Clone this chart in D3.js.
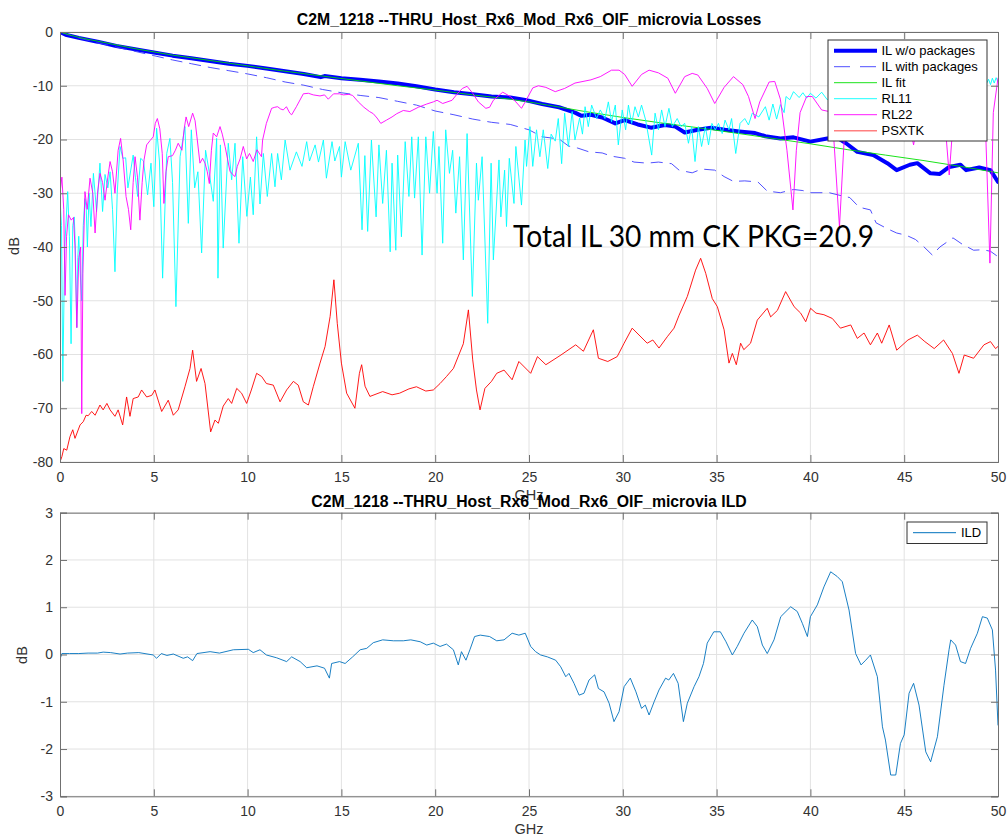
<!DOCTYPE html>
<html><head><meta charset="utf-8">
<script src="https://cdn.jsdelivr.net/npm/d3@7"></script>
<style>
body{margin:0;background:#fff}
svg text{font-family:"Liberation Sans",Arial,Helvetica,sans-serif}
</style>
</head><body>
<svg id="c" width="1008" height="836"></svg>
<script>
// ---------------- DATA ----------------
const titleTop = "C2M_1218 --THRU_Host_Rx6_Mod_Rx6_OIF_microvia Losses";
const titleBot = "C2M_1218 --THRU_Host_Rx6_Mod_Rx6_OIF_microvia ILD";
const annotation = "Total IL 30 mm CK PKG=20.9";
const xTicks = [0,5,10,15,20,25,30,35,40,45,50];
const yTicksTop = [0,-10,-20,-30,-40,-50,-60,-70,-80];
const yTicksBot = [3,2,1,0,-1,-2,-3];
const legendTop = ["IL w/o packages","IL with packages","IL fit","RL11","RL22","PSXTK"];
const legendBot = ["ILD"];

// IL without packages [GHz, dB]
const ilWo = [[0,0],[0.3,-0.5],[1,-1.1],[2,-1.8],[3,-2.6],[4,-3.2],[5,-3.8],[6,-4.4],[7,-4.9],[8,-5.4],[9,-5.9],[10,-6.3],[11,-6.8],[12,-7.3],[13,-7.8],[13.9,-8.4],[14.1,-8.2],[15,-8.6],[16,-8.9],[17,-9.2],[18,-9.6],[19,-10.1],[20,-10.7],[21,-11.2],[22,-11.6],[23,-12.0],[24,-12.2],[24.8,-12.65],[25.7,-13.4],[26.6,-14.0],[27.45,-15.0],[27.8,-15.6],[28.3,-15.4],[28.9,-15.9],[29.6,-17.0],[30.1,-16.4],[30.8,-17.2],[31.5,-17.8],[32.25,-17.3],[32.8,-17.6],[33.3,-18.7],[34.0,-18.2],[34.7,-17.8],[35.45,-18.2],[36.2,-18.5],[37.05,-18.8],[37.6,-19.4],[38.4,-19.8],[39.1,-19.6],[40.0,-20.4],[40.9,-19.8],[41.4,-19.6],[41.9,-20.7],[42.5,-22.3],[43.35,-22.9],[44.1,-24.4],[44.6,-25.7],[45.3,-24.7],[45.7,-24.4],[46.4,-26.3],[46.9,-26.4],[47.4,-25.1],[48.0,-24.7],[48.3,-25.7],[49.0,-25.2],[49.6,-25.7],[50,-27.9]];

// IL with packages
const ilWith = [[0,0],[1,-1.1],[2,-2.0],[3,-2.8],[4,-3.6],[5,-4.4],[6,-5.2],[7,-5.9],[8,-6.6],[9,-7.2],[10,-7.8],[11,-8.5],[12,-9.3],[13,-9.9],[14,-10.7],[15,-11.3],[16,-11.8],[17,-12.2],[18,-12.9],[19,-13.6],[20,-14.7],[21,-15.4],[22,-16.2],[23,-16.8],[24,-17.2],[25,-18.2],[25.7,-19.5],[26.6,-19.9],[27.1,-21.2],[27.6,-21.6],[28.2,-22.3],[28.9,-22.5],[29.4,-23.1],[30.1,-23.5],[30.6,-24.2],[31.3,-24.4],[31.9,-24.2],[32.6,-24.5],[33.0,-25.7],[33.7,-26.2],[34.2,-25.5],[34.9,-25.7],[35.4,-26.9],[35.9,-27.8],[36.5,-27.7],[37.2,-27.9],[37.7,-29.6],[38.4,-29.9],[39.1,-29.3],[39.6,-29.5],[40.0,-29.9],[41.0,-29.9],[41.7,-30.5],[42.1,-30.8],[42.6,-32.6],[43.2,-33.1],[43.5,-35.5],[44.1,-36.6],[44.6,-37.4],[45.1,-37.8],[45.6,-38.6],[46.0,-39.8],[46.5,-41.5],[46.9,-40.0],[47.6,-38.3],[48.1,-39.5],[48.7,-40.6],[49.2,-40.5],[49.6,-40.8],[50,-41.8]];

// IL fit
const ilFit = [[0,0],[1,-1.0],[2,-1.7],[3,-2.4],[4,-3.1],[5,-3.7],[6,-4.3],[7,-4.8],[8,-5.3],[9,-5.8],[10,-6.3],[12,-7.3],[14,-8.2],[16,-9.1],[18,-10.0],[20,-10.8],[22,-11.7],[24,-12.5],[26,-13.6],[28,-14.8],[30,-15.9],[32,-16.9],[34,-17.8],[36,-18.8],[38,-19.8],[40,-20.8],[42,-21.9],[44,-22.9],[46,-23.9],[48,-25.0],[50,-26.2]];

// RL11
const rl11 = [[0,-31],[0.08,-36],[0.15,-65],[0.25,-40],[0.41,-29.7],[0.5,-38],[0.59,-58],[0.68,-36],[0.76,-34.4],[0.82,-40],[0.89,-55],[0.95,-42],[1.0,-38],[1.08,-45],[1.16,-50],[1.24,-36],[1.33,-31],[1.4,-33],[1.46,-40],[1.55,-30],[1.65,-36.2],[1.78,-26.3],[1.95,-33.4],[2.13,-24.4],[2.27,-33.4],[2.4,-26.5],[2.55,-29],[2.67,-26],[2.8,-33],[2.93,-44.6],[3.05,-30],[3.2,-21.3],[3.35,-23.5],[3.5,-23.4],[3.62,-29],[3.9,-22.9],[4.02,-27],[4.14,-30.6],[4.3,-23.5],[4.45,-24],[4.67,-30.3],[4.85,-24.4],[5.0,-32.5],[5.15,-17.9],[5.3,-24],[5.47,-45.8],[5.69,-22.6],[5.86,-19.8],[6.0,-28],[6.18,-51.1],[6.4,-23.2],[6.66,-17.6],[6.84,-35.6],[7.0,-18.2],[7.18,-29],[7.35,-26],[7.55,-41.1],[7.76,-22],[7.95,-26],[8.17,-31.5],[8.35,-19.8],[8.42,-45.8],[8.55,-21],[8.7,-40.2],[8.97,-20.7],[9.15,-27.5],[9.33,-20.7],[9.54,-39.3],[9.74,-23.2],[9.96,-34.3],[10.15,-27],[10.3,-34],[10.48,-19.5],[10.66,-32],[10.84,-22.6],[11.05,-30.6],[11.28,-22.6],[11.46,-28.8],[11.6,-22.6],[11.8,-27.5],[12.0,-20.1],[12.26,-25.7],[12.6,-22.3],[12.9,-25],[13.15,-20.4],[13.3,-24],[13.6,-21],[13.78,-24.2],[14.04,-20.1],[14.2,-27.2],[14.5,-20.4],[14.65,-24],[14.9,-21.3],[15.0,-27],[15.2,-20.4],[15.5,-25.7],[15.9,-20.7],[16.1,-36.8],[16.25,-23],[16.4,-37.1],[16.6,-20.1],[16.85,-34.4],[17.0,-21],[17.2,-31.9],[17.4,-22],[17.6,-40.9],[17.7,-24.4],[17.9,-40.6],[18.0,-22.9],[18.2,-38.1],[18.4,-20.4],[18.6,-30.6],[18.75,-19.5],[18.9,-30.9],[19.1,-19.5],[19.3,-41.5],[19.5,-19.5],[19.7,-30],[19.9,-18.5],[20.1,-30],[20.2,-21.3],[20.4,-39.3],[20.56,-18.2],[20.76,-26.3],[20.93,-22],[21.1,-33.7],[21.3,-23.2],[21.5,-42.4],[21.7,-18.9],[21.98,-49.2],[22.2,-24.4],[22.3,-31.3],[22.5,-23.2],[22.8,-54.2],[22.98,-24.4],[23.1,-42.4],[23.4,-23.8],[23.5,-34.4],[23.7,-25.7],[23.8,-36.2],[23.95,-23.5],[24.2,-31.9],[24.3,-21.3],[24.6,-32.2],[24.79,-20.1],[24.87,-25],[25.05,-17.6],[25.2,-25],[25.4,-18.2],[25.58,-23.2],[25.76,-18.2],[26.0,-25.4],[26.18,-19],[26.4,-20.3],[26.56,-16.1],[26.74,-24.5],[26.9,-15.1],[27.1,-21.3],[27.3,-14.8],[27.45,-20.1],[27.7,-16],[27.85,-19],[27.99,-13.9],[28.16,-17.6],[28.34,-13.6],[28.6,-16.1],[28.8,-14.5],[29.05,-16.1],[29.23,-13],[29.4,-16.7],[29.6,-13.6],[29.76,-21],[29.97,-14.5],[30.15,-18.2],[30.3,-13.6],[30.47,-17],[30.65,-13.9],[30.83,-15.8],[31.0,-13.6],[31.22,-16.4],[31.54,-22.9],[31.72,-15.1],[31.9,-18.2],[32.07,-14.5],[32.25,-17.6],[32.46,-14.2],[32.64,-17.6],[32.9,-16.1],[33.1,-17.6],[33.3,-17],[33.5,-20.7],[33.67,-17.6],[33.85,-24.1],[34.03,-17.6],[34.2,-21.3],[34.4,-17.6],[34.57,-21],[34.75,-17],[34.93,-18.2],[35.1,-17],[35.3,-18.9],[35.45,-16.4],[35.66,-18.2],[35.8,-16.1],[36.02,-22.6],[36.25,-17],[36.5,-16.1],[36.7,-17.3],[36.9,-15.1],[37.25,-15.8],[37.6,-13.9],[37.8,-16.4],[38.0,-13.4],[38.2,-16.2],[38.4,-13.5],[38.6,-15],[38.7,-12],[38.9,-12.6],[39.1,-11.1],[39.4,-12.2],[39.6,-11.3],[39.8,-12.3],[40.0,-11.4],[40.3,-12.3],[40.6,-11.2],[40.9,-12.6],[41.2,-11.5],[41.5,-12.5],[42,-11.5],[42.5,-12.2],[43,-11],[43.5,-11.8],[44,-10.8],[44.5,-11.6],[45,-10.5],[45.5,-11.3],[46,-10.3],[46.5,-11],[47,-10],[47.5,-10.8],[48,-9.8],[48.5,-10.5],[49,-9.5],[49.3,-10.2],[49.5,-8.8],[49.6,-9.8],[49.7,-8.6],[49.8,-9.5],[49.9,-8.5],[50,-9.3]];

// RL22
const rl22 = [[0,-30],[0.1,-27],[0.2,-33],[0.27,-49],[0.35,-38],[0.45,-34],[0.6,-35],[0.72,-34.5],[0.8,-40],[0.9,-55],[1.0,-42],[1.1,-40],[1.16,-71],[1.22,-45],[1.33,-29.7],[1.45,-33],[1.6,-27.2],[1.75,-30],[1.87,-37.4],[2.0,-30],[2.13,-26.3],[2.27,-28],[2.4,-31.3],[2.55,-27],[2.67,-24.1],[2.8,-26],[2.93,-30],[3.1,-22],[3.23,-19.8],[3.37,-24],[3.52,-30.6],[3.65,-33],[3.77,-36.8],[3.9,-28],[4.0,-23.2],[4.13,-27],[4.26,-35],[4.38,-28],[4.48,-23.8],[4.62,-21],[4.8,-20.2],[4.97,-19.5],[5.08,-17],[5.19,-16.1],[5.32,-18],[5.45,-22.6],[5.54,-31.9],[5.65,-26],[5.77,-23.2],[6.0,-23],[6.15,-22],[6.3,-20.7],[6.5,-22],[6.62,-18],[6.72,-15.8],[6.86,-17.6],[7.07,-15.1],[7.2,-16.5],[7.3,-19.5],[7.46,-24.4],[7.6,-23.5],[7.73,-24.4],[7.85,-26],[7.96,-28.2],[8.07,-22],[8.17,-18.8],[8.35,-19.5],[8.53,-17.6],[8.65,-19],[8.8,-21.3],[9.06,-25.9],[9.2,-26.5],[9.33,-26.9],[9.45,-25],[9.6,-23.6],[9.77,-21.3],[9.95,-23.6],[10.1,-22.6],[10.3,-24.1],[10.5,-21.9],[10.74,-23.2],[10.8,-20.1],[11.0,-17],[11.28,-14.2],[11.45,-14.0],[11.6,-13.9],[11.75,-14.3],[11.9,-14.5],[12.07,-13.9],[12.25,-15.1],[12.35,-15.4],[12.6,-13.9],[12.97,-11.5],[13.24,-11.4],[13.5,-11.7],[13.86,-11.9],[14.1,-11.7],[14.3,-12.5],[14.58,-11.5],[14.9,-11.5],[15.1,-11.7],[15.4,-11.6],[15.6,-11.8],[15.9,-13.0],[16.2,-14.0],[16.5,-14.8],[16.7,-15.2],[16.9,-16.0],[17.1,-17.0],[17.4,-16.4],[17.7,-15.8],[17.95,-15.2],[18.3,-14.6],[18.65,-14.8],[19.1,-14.0],[19.55,-13.4],[19.9,-13.0],[20.1,-12.7],[20.4,-13.3],[20.9,-12.7],[21.2,-11.4],[21.45,-10.5],[21.7,-10.1],[22.0,-11.4],[22.3,-13.0],[22.7,-14.2],[22.9,-14.0],[23.1,-12.7],[23.6,-11.2],[24.0,-12.0],[24.3,-13.0],[24.6,-14.2],[24.8,-13],[25.2,-10.4],[25.5,-10],[25.9,-10.3],[26.4,-11.1],[26.9,-10.5],[27.45,-9.5],[28.3,-8.9],[28.8,-8.3],[29.4,-7.1],[29.8,-7.1],[30.1,-7.9],[30.5,-10.1],[31.0,-7.9],[31.4,-7.1],[31.9,-7.6],[32.4,-8.6],[32.8,-11.4],[33.3,-8.3],[33.7,-7.7],[34.0,-8.0],[34.5,-10.5],[34.9,-13.3],[35.4,-10.3],[35.9,-8.3],[36.4,-9.8],[36.7,-12.0],[37.05,-16.1],[37.3,-13],[37.8,-9.3],[38.1,-9.2],[38.4,-12.5],[38.75,-22],[39.07,-33.1],[39.25,-22],[39.45,-15],[39.8,-12.0],[40.1,-12.0],[40.6,-14.5],[41.0,-14.8],[41.25,-20],[41.55,-36.3],[41.8,-20],[42.1,-14],[42.6,-12],[43.2,-13],[43.8,-14],[44.3,-12],[44.8,-13],[45.2,-16],[45.5,-21],[45.8,-15],[46.3,-13],[46.9,-14],[47.2,-18],[47.4,-26.6],[47.6,-17],[48.1,-13],[48.6,-12],[49.0,-11],[49.3,-14],[49.57,-43],[49.75,-15],[50,-8.6]];

// PSXTK
const psxtk = [[0,-80],[0.1,-79],[0.2,-77.5],[0.36,-77.8],[0.53,-75.3],[0.68,-74],[0.8,-75.6],[1.07,-73.1],[1.24,-72.5],[1.39,-71.3],[1.5,-71.4],[1.69,-70.6],[1.87,-71.3],[2.13,-69.4],[2.3,-70.3],[2.5,-69.1],[2.67,-70.3],[2.93,-71.5],[3.1,-70.3],[3.34,-73.1],[3.55,-67.9],[3.73,-71.5],[3.9,-68.2],[4.17,-67.9],[4.35,-66.6],[4.62,-67.9],[4.89,-67.6],[5.06,-66.6],[5.42,-70.6],[5.77,-68.5],[6.04,-71.3],[6.3,-70.3],[6.66,-66],[6.93,-62.6],[7.07,-59.2],[7.28,-65],[7.52,-62.6],[7.73,-65.4],[8.03,-74.4],[8.26,-72.2],[8.44,-72.8],[8.7,-69.6],[8.97,-68.2],[9.15,-69.1],[9.42,-66.3],[9.68,-67.2],[9.95,-69.1],[10.2,-66.6],[10.48,-63.5],[10.75,-64.1],[11.0,-65.4],[11.37,-65.7],[11.73,-68.8],[12.08,-66.6],[12.44,-65],[12.7,-65.7],[12.97,-68.8],[13.24,-69.4],[13.5,-66],[13.86,-61.6],[14.13,-58.5],[14.4,-52.9],[14.6,-46.1],[14.78,-54.2],[15.0,-61.6],[15.28,-67.2],[15.72,-70],[15.96,-63.5],[16.08,-61.9],[16.26,-65.9],[16.52,-67.8],[17.2,-66.9],[17.7,-67.5],[18.1,-67.2],[18.6,-66.4],[19.0,-66],[19.5,-66.8],[19.9,-66.6],[20.26,-65.4],[20.6,-64.1],[20.97,-62.6],[21.5,-58],[21.77,-51.7],[22.0,-61],[22.2,-66.6],[22.39,-70.3],[22.65,-66.3],[23.0,-65],[23.28,-63.5],[23.67,-62.9],[24.1,-64.7],[24.46,-61.3],[25.09,-63.5],[25.45,-60.4],[25.9,-61.9],[26.7,-60.1],[27.49,-58.2],[27.9,-59.4],[28.43,-55.4],[28.7,-60.7],[29.2,-61.3],[29.7,-60.4],[30.07,-57.9],[30.5,-55.1],[31.3,-57.9],[31.6,-57.3],[31.93,-58.8],[32.37,-56.7],[32.73,-55.1],[33.0,-52.7],[33.44,-49.2],[33.88,-44.3],[34.15,-42.1],[34.42,-44.9],[34.77,-49.6],[35.04,-51.1],[35.4,-55.4],[35.66,-61.6],[35.84,-59.8],[36.05,-61.9],[36.28,-57.9],[36.45,-59.1],[36.81,-57.9],[37.17,-53.6],[37.7,-51.4],[37.88,-53],[38.24,-51.8],[38.68,-48.3],[39.13,-51.1],[39.48,-52.3],[39.75,-53.9],[40.01,-51.4],[40.3,-52.3],[40.72,-52.6],[41.17,-53.3],[41.6,-55.1],[42.15,-54.5],[42.5,-57],[42.86,-56],[43.2,-58.2],[43.57,-56],[43.8,-57.9],[44.2,-54.5],[44.6,-59.2],[45.2,-57.3],[45.7,-56.4],[46.1,-57.6],[46.6,-58.9],[47.1,-57.3],[47.57,-59.8],[47.92,-63.5],[48.2,-60.1],[48.7,-60.7],[49.25,-58.2],[49.6,-57.6],[49.87,-58.9],[50,-58.5]];

// ILD (bottom panel)
const ild = [[0,-0.1],[0.1,0.02],[0.5,0.02],[1,0.02],[1.5,0.03],[2,0.03],[2.3,0.05],[2.7,0.04],[3.2,0.01],[3.6,0.03],[4.2,0.04],[4.97,-0.01],[5.15,-0.08],[5.4,0.02],[5.7,-0.02],[6.04,0.01],[6.57,-0.08],[6.8,-0.05],[7.07,-0.13],[7.3,0.02],[8.0,0.06],[8.5,0.03],[9.24,0.1],[10.04,0.11],[10.3,0.04],[10.66,0.1],[11.0,-0.01],[11.55,-0.07],[12.08,-0.15],[12.35,-0.05],[12.8,-0.15],[13.15,-0.28],[13.7,-0.24],[14.1,-0.29],[14.36,-0.5],[14.48,-0.19],[14.9,-0.15],[15.2,-0.19],[15.6,-0.05],[16.0,0.1],[16.35,0.13],[16.7,0.25],[17.2,0.31],[17.77,0.29],[18.3,0.29],[18.7,0.31],[19.2,0.27],[19.55,0.2],[19.9,0.24],[20.26,0.17],[20.6,0.22],[20.97,0.1],[21.23,-0.22],[21.4,0.06],[21.64,-0.12],[21.85,0.1],[22.1,0.38],[22.4,0.41],[22.9,0.38],[23.28,0.29],[23.67,0.31],[24.1,0.45],[24.46,0.41],[24.8,0.45],[25.09,0.17],[25.35,0.06],[25.62,-0.01],[25.98,-0.05],[26.42,-0.12],[26.69,-0.26],[26.96,-0.47],[27.13,-0.4],[27.4,-0.61],[27.67,-0.86],[27.93,-0.82],[28.2,-0.54],[28.5,-0.43],[28.7,-0.72],[29.0,-0.79],[29.27,-1.03],[29.53,-1.42],[29.8,-1.21],[30.07,-0.68],[30.4,-0.5],[30.7,-0.79],[31.0,-1.14],[31.2,-1.07],[31.4,-1.28],[31.67,-1.0],[31.93,-0.75],[32.28,-0.5],[32.45,-0.54],[32.7,-0.4],[32.95,-0.61],[33.23,-1.42],[33.44,-1.03],[33.8,-0.68],[34.06,-0.47],[34.3,-0.19],[34.5,0.24],[34.85,0.48],[35.2,0.48],[35.5,0.27],[35.84,-0.01],[36.1,0.17],[36.46,0.45],[36.9,0.73],[37.17,0.59],[37.44,0.2],[37.7,0.02],[38.06,0.31],[38.42,0.8],[38.95,1.01],[39.3,0.91],[39.57,0.66],[39.84,0.38],[40.0,0.8],[40.37,1.05],[40.72,1.43],[41.08,1.75],[41.43,1.65],[41.7,1.54],[42.06,0.94],[42.41,0.02],[42.7,-0.22],[42.95,-0.12],[43.2,-0.01],[43.57,-0.47],[43.84,-1.53],[44.0,-1.81],[44.28,-2.55],[44.55,-2.55],[44.8,-1.88],[45.0,-1.7],[45.26,-0.82],[45.5,-0.61],[45.79,-1.07],[46.15,-2.06],[46.41,-2.27],[46.77,-1.74],[47.12,-0.65],[47.39,0.1],[47.48,0.31],[47.74,0.2],[48.0,-0.15],[48.27,-0.19],[48.54,0.13],[48.9,0.45],[49.17,0.8],[49.43,0.77],[49.7,0.52],[49.87,-0.33],[50,-1.5]];

// ---------------- DRAWING ----------------
const svg = d3.select("#c");
const L = 60, R = 998;
const top1 = 32, bot1 = 462, top2 = 512.7, bot2 = 796.3;
const x = d3.scaleLinear().domain([0,50]).range([L,R]);
const y1 = d3.scaleLinear().domain([-80,0]).range([bot1,top1]);
const y2 = d3.scaleLinear().domain([-3,3]).range([bot2,top2]);
const axisCol = "#707070", labelCol = "#333", gridCol = "#e2e2e2";

function panel(y, yT, t, b, clipId) {
  const g = svg.append("g");
  g.append("g").selectAll("line").data(xTicks.slice(1,-1)).join("line")
    .attr("x1", d=>x(d)).attr("x2", d=>x(d)).attr("y1", t).attr("y2", b)
    .attr("stroke", gridCol).attr("stroke-width", 1);
  g.append("g").selectAll("line").data(yT).join("line")
    .attr("y1", d=>y(d)).attr("y2", d=>y(d)).attr("x1", L).attr("x2", R)
    .attr("stroke", gridCol).attr("stroke-width", 1);
  svg.append("clipPath").attr("id", clipId).append("rect")
    .attr("x", L).attr("y", t).attr("width", R-L).attr("height", b-t);
  return g;
}
function axes(y, yT, t, b) {
  const g = svg.append("g");
  const fs = "14px";
  const ab = g.append("g").attr("transform", `translate(0,${b})`)
    .call(d3.axisBottom(x).tickValues(xTicks).tickSize(-7).tickPadding(10).tickFormat(d3.format("d")));
  const at = g.append("g").attr("transform", `translate(0,${t})`)
    .call(d3.axisTop(x).tickValues(xTicks).tickSize(-7).tickFormat(""));
  const al = g.append("g").attr("transform", `translate(${L},0)`)
    .call(d3.axisLeft(y).tickValues(yT).tickSize(-7).tickPadding(7).tickFormat(d=>d3.format("d")(d).replace("−","-")));
  const ar = g.append("g").attr("transform", `translate(${R},0)`)
    .call(d3.axisRight(y).tickValues(yT).tickSize(-7).tickFormat(""));
  [ab,at,al,ar].forEach(a=>{
    a.selectAll(".domain").attr("stroke", axisCol).attr("stroke-width",1);
    a.selectAll(".tick line").attr("stroke", axisCol);
    a.selectAll("text").attr("fill", labelCol).style("font-size", fs)
      .style("font-family",'"Liberation Sans",Arial,sans-serif');
  });
}

const line = (y) => d3.line().x(d=>x(d[0])).y(d=>y(d[1])).curve(d3.curveLinear);

// ---------- top panel ----------
panel(y1, yTicksTop, top1, bot1, "clip1");
const plot1 = svg.append("g").attr("clip-path","url(#clip1)")
  .attr("fill","none").attr("stroke-linejoin","round").attr("stroke-linecap","round");
plot1.append("path").datum(ilWo).attr("d", line(y1)).attr("stroke","#0000ff").attr("stroke-width",4);
plot1.append("path").datum(ilWith).attr("d", line(y1)).attr("stroke","#3c3cff").attr("stroke-width",0.9).attr("stroke-dasharray","12,7").attr("stroke-linecap","butt");
plot1.append("path").datum(ilFit).attr("d", line(y1).curve(d3.curveMonotoneX)).attr("stroke","#00e000").attr("stroke-width",0.9);
plot1.append("path").datum(rl11).attr("d", line(y1)).attr("stroke","#00ffff").attr("stroke-width",0.9);
plot1.append("path").datum(rl22).attr("d", line(y1)).attr("stroke","#ff00ff").attr("stroke-width",0.9);
plot1.append("path").datum(psxtk).attr("d", line(y1)).attr("stroke","#ff0000").attr("stroke-width",0.9);
axes(y1, yTicksTop, top1, bot1);

// annotation
svg.append("text").attr("x", 513).attr("y", 247)
  .text(annotation).style("font-family","Lato, 'Open Sans', sans-serif").style("font-size","30px")
  .attr("textLength", 361).attr("lengthAdjust","spacingAndGlyphs").attr("fill","#000");

// legend top
const lgT = svg.append("g");
lgT.append("rect").attr("x",828).attr("y",40).attr("width",159).attr("height",101)
  .attr("fill","#fff").attr("stroke","#333").attr("stroke-width",1);
const lgStyles = [
  {c:"#0000ff", w:4, dash:null},
  {c:"#3c3cff", w:0.9, dash:"16,10"},
  {c:"#00e000", w:0.9, dash:null},
  {c:"#00ffff", w:0.9, dash:null},
  {c:"#ff00ff", w:0.9, dash:null},
  {c:"#ff8080", w:1.5, dash:null}
];
legendTop.forEach((name,i)=>{
  const yy = 50.7 + i*16;
  lgT.append("line").attr("x1",834).attr("x2",877).attr("y1",yy).attr("y2",yy)
    .attr("stroke",lgStyles[i].c).attr("stroke-width",lgStyles[i].w)
    .attr("stroke-dasharray",lgStyles[i].dash);
  lgT.append("text").attr("x",881.5).attr("y",yy).attr("dy","0.35em").text(name)
    .style("font-size","13px").attr("fill","#000");
});

// titles / labels top
svg.append("text").attr("x",529).attr("y",25).attr("text-anchor","middle")
  .text(titleTop).style("font-weight","bold").style("font-size","15.8px").attr("fill","#000");
svg.append("text").attr("transform","translate(19,246) rotate(-90)").attr("text-anchor","middle")
  .text("dB").style("font-size","14.5px").attr("fill",labelCol);
svg.append("text").attr("x",529).attr("y",500).attr("text-anchor","middle")
  .text("GHz").style("font-size","14.5px").attr("fill",labelCol);

// ---------- bottom panel ----------
panel(y2, yTicksBot, top2, bot2, "clip2");
const plot2 = svg.append("g").attr("clip-path","url(#clip2)").attr("fill","none");
plot2.append("path").datum(ild).attr("d", line(y2)).attr("stroke","#0072BD").attr("stroke-width",0.9).attr("stroke-linejoin","round");
axes(y2, yTicksBot, top2, bot2);

const lgB = svg.append("g");
lgB.append("rect").attr("x",907).attr("y",522).attr("width",80).attr("height",21.5)
  .attr("fill","#fff").attr("stroke","#333").attr("stroke-width",1);
lgB.append("line").attr("x1",913).attr("x2",956).attr("y1",532.7).attr("y2",532.7)
  .attr("stroke","#0072BD").attr("stroke-width",1);
lgB.append("text").attr("x",961).attr("y",532.7).attr("dy","0.35em").text(legendBot[0])
  .style("font-size","13px").attr("fill","#000");

svg.append("text").attr("x",529).attr("y",506.5).attr("text-anchor","middle")
  .text(titleBot).style("font-weight","bold").style("font-size","15.8px").attr("fill","#000");
svg.append("text").attr("transform","translate(27,655) rotate(-90)").attr("text-anchor","middle")
  .text("dB").style("font-size","14.5px").attr("fill",labelCol);
svg.append("text").attr("x",529).attr("y",834).attr("text-anchor","middle")
  .text("GHz").style("font-size","14.5px").attr("fill",labelCol);
</script>
</body></html>
